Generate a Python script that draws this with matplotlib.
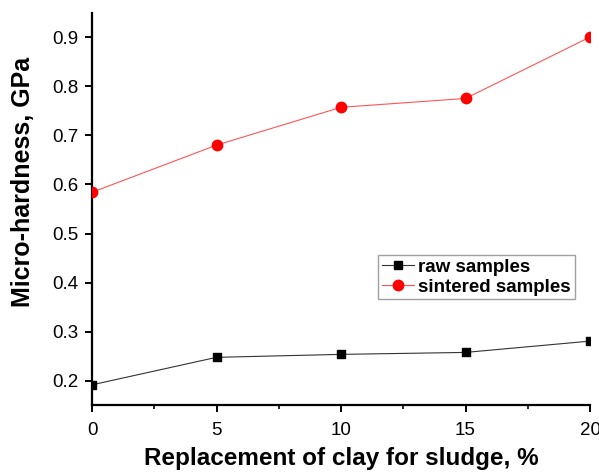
import matplotlib
matplotlib.use('Agg')
import matplotlib.pyplot as plt
from matplotlib.lines import Line2D
from matplotlib.ticker import MultipleLocator

plt.rcParams['font.family'] = ['Liberation Sans', 'DejaVu Sans']

replacement = [0, 5, 10, 15, 20]
raw_hardness = [0.192, 0.248, 0.254, 0.258, 0.281]
sintered_hardness = [0.584, 0.680, 0.757, 0.775, 0.900]

raw_color = '#333333'
sint_color = '#ff5555'

fig = plt.figure(figsize=(5.99, 4.72), dpi=100)
ax = fig.add_axes([0.1536, 0.142, 0.8314, 0.8305])

# lines, then markers as scatter so the end markers get clipped at the axes edge
ax.plot(replacement, raw_hardness, color=raw_color, linewidth=0.8)
ax.plot(replacement, sintered_hardness, color=sint_color, linewidth=0.8)
ax.scatter(replacement, raw_hardness, s=36, marker='s', color='black', zorder=3)
ax.scatter(replacement, sintered_hardness, s=56, marker='o', color='red', zorder=3)

ax.set_xlim(0, 20)
ax.set_ylim(0.151, 0.949)
ax.xaxis.set_major_locator(MultipleLocator(5))
ax.xaxis.set_minor_locator(MultipleLocator(2.5))
ax.yaxis.set_major_locator(MultipleLocator(0.1))
ax.yaxis.set_major_formatter(plt.FuncFormatter(lambda v, p: f'{v:.1f}'))

for side in ['top', 'right']:
    ax.spines[side].set_visible(False)
for side in ['left', 'bottom']:
    ax.spines[side].set_linewidth(1.6)

ax.tick_params(axis='both', which='major', direction='out', length=5, width=1.4,
               labelsize=13.5)
ax.tick_params(axis='x', which='minor', direction='out', length=3, width=1.2)
ax.tick_params(axis='x', pad=7)
ax.tick_params(axis='y', pad=5)

ax.set_xlabel('Replacement of clay for sludge, %', fontsize=17.5, fontweight='bold',
              labelpad=6)
ax.set_ylabel('Micro-hardness, GPa', fontsize=18, fontweight='bold')
ax.yaxis.set_label_coords(-0.115, 0.569)

handles = [
    Line2D([], [], color=raw_color, linewidth=0.8, marker='s', markersize=6,
           markerfacecolor='black', markeredgecolor='black'),
    Line2D([], [], color=sint_color, linewidth=0.8, marker='o', markersize=7.5,
           markerfacecolor='red', markeredgecolor='red'),
]
leg = ax.legend(handles, ['raw samples', 'sintered samples'],
                loc='upper left', bbox_to_anchor=(0.574, 0.383),
                prop={'weight': 'bold', 'size': 13.5}, frameon=True, fancybox=False,
                borderpad=0.2, labelspacing=0.15, handlelength=1.75,
                handletextpad=0.2, borderaxespad=0)
leg.get_frame().set_edgecolor('#888888')
leg.get_frame().set_linewidth(1.0)

fig.savefig('out.png', dpi=100)
